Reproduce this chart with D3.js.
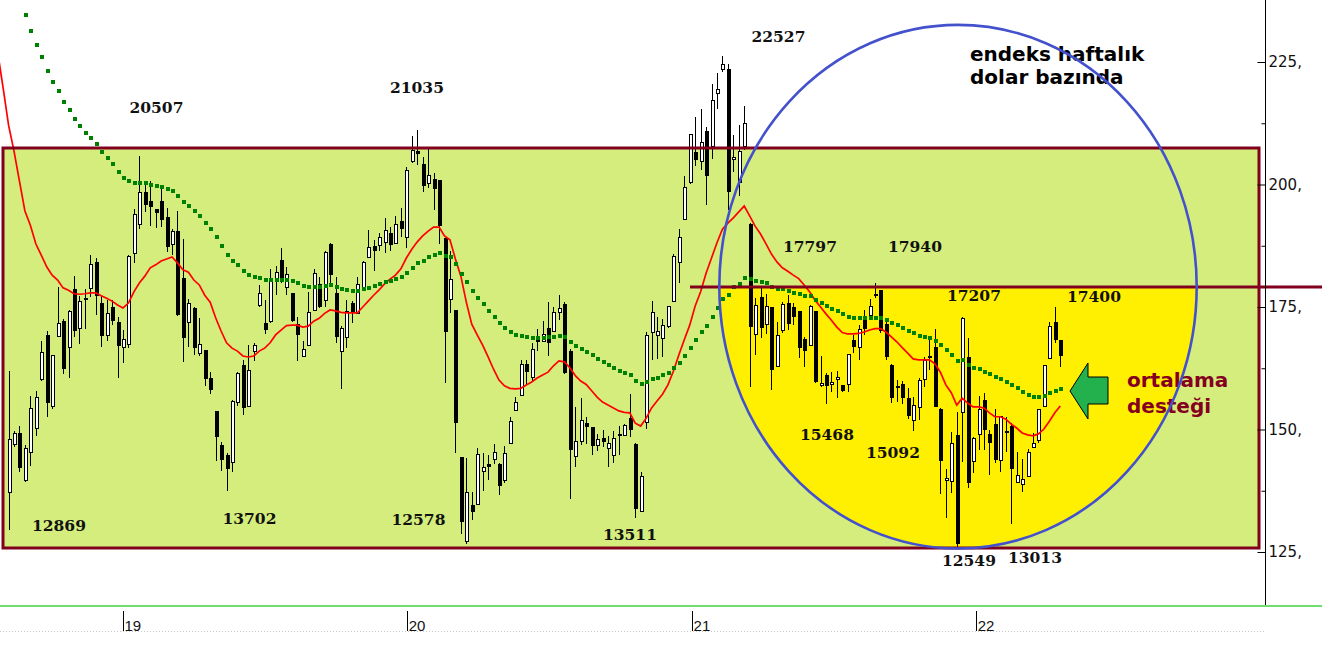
<!DOCTYPE html>
<html>
<head>
<meta charset="utf-8">
<script src="https://cdn.jsdelivr.net/npm/d3@7"></script>
<style>
  html, body { margin: 0; padding: 0; background: #fff; }
  svg { display: block; }
</style>
</head>
<body>
<svg id="chart" width="1322" height="650"></svg>
<script>
// ---------------- DATA (weekly candles, index in USD terms) ----------------
const firstWeek = "2018-08-07";
const opens = [137.1,147.0,149.1,139.6,145.3,150.2,160.3,169.2,154.7,169.0,
172.1,166.8,178.6,170.6,176.5,178.7,184.1,175.8,169.2,175.0,
171.9,166.7,167.3,186.0,191.9,198.4,196.6,194.8,196.6,193.3,
187.8,190.5,180.9,171.9,174.6,165.5,166.2,160.5,153.6,146.8,
144.7,143.3,155.5,163.1,154.7,165.9,175.3,171.7,172.0,180.9,
184.4,178.9,177.7,171.4,164.9,167.2,174.3,179.6,176.4,187.8,
177.8,166.0,168.8,175.8,173.7,179.0,185.1,187.4,187.6,188.1,
190.0,188.0,192.5,189.2,204.7,206.8,204.0,200.2,201.1,200.8,
188.9,176.6,174.2,144.2,127.1,134.4,134.7,141.4,142.8,143.8,
142.9,139.6,147.2,153.9,157.0,163.2,160.7,168.3,167.9,170.7,
170.1,173.9,175.6,166.0,144.5,147.6,151.3,150.4,146.7,148.2,
146.1,144.7,149.0,148.8,152.3,147.0,133.3,151.5,169.8,169.2,
168.6,171.0,176.2,184.1,192.9,200.4,206.6,204.7,210.9,207.7,
218.5,223.5,223.5,205.1,200.4,207.7,191.9,169.4,177.0,171.5,
174.8,162.9,170.2,175.8,174.8,174.0,168.3,167.2,174.0,158.9,
161.1,159.2,160.2,158.9,159.1,168.1,166.7,172.2,173.2,177.5,
178.3,171.5,163.0,158.7,159.1,156.4,151.9,154.5,160.2,165.0,
166.8,154.1,139.6,139.4,148.7,153.5,164.7,143.4,148.9,156.0,
149.0,151.1,143.6,149.6,150.6,139.2,138.7,140.5,146.4,147.7,
154.7,164.5,171.8,168.1];
const highs = [162.0,149.6,150.7,146.8,156.9,157.9,168.1,170.1,165.3,179.1,
172.6,174.3,181.3,177.2,178.6,185.6,185.0,177.2,176.5,176.5,
173.0,170.3,185.7,194.9,205.8,200.6,200.7,195.1,199.2,195.3,
191.0,194.6,188.9,176.6,174.9,172.8,166.2,161.7,153.8,147.4,
145.3,156.0,161.7,164.2,167.2,167.7,179.5,176.4,182.8,183.4,
187.0,183.2,177.9,173.0,168.1,178.1,182.8,181.1,186.5,188.1,
181.1,171.2,176.4,176.2,181.1,184.3,190.7,188.7,190.2,193.1,
191.3,193.6,195.3,203.6,209.9,211.1,205.7,207.3,202.3,201.0,
189.1,186.4,174.4,144.4,144.2,137.2,146.2,145.3,144.8,147.0,
143.1,146.6,152.6,156.7,164.2,164.2,167.6,170.5,172.2,176.0,
175.0,177.5,176.1,166.4,154.5,156.4,152.5,150.6,149.1,149.9,
148.7,149.7,150.7,151.2,157.3,147.2,141.4,170.0,176.2,173.0,
172.6,175.3,185.8,190.9,201.7,210.4,213.7,215.5,211.8,220.5,
222.7,226.2,224.5,210.1,212.1,216.0,192.1,176.8,178.8,177.6,
175.0,171.9,176.1,177.5,175.8,174.2,168.9,175.4,174.2,165.0,
161.6,161.7,161.9,159.1,165.5,169.3,171.3,174.4,176.6,180.0,
178.5,172.3,163.3,160.1,159.9,158.4,156.7,160.6,164.7,168.4,
170.6,154.3,141.9,149.4,153.5,172.9,168.6,148.4,156.8,157.4,
150.0,154.1,152.8,152.6,151.3,145.5,143.9,146.0,149.2,154.2,
163.2,172.0,174.9,168.3];
const lows = [129.5,146.5,141.4,139.3,142.6,148.7,159.8,152.6,154.1,168.8,
161.4,160.5,168.9,167.5,170.5,177.1,173.4,166.9,168.1,171.3,
160.6,163.6,166.7,184.0,190.9,194.4,191.6,191.2,191.4,186.2,
185.6,173.2,163.8,166.9,165.2,164.9,158.9,157.2,143.6,141.6,
137.5,141.4,154.7,153.0,154.5,164.0,174.9,169.4,171.8,177.5,
179.8,177.5,172.0,164.0,164.7,167.0,174.1,174.7,175.1,179.2,
167.7,158.3,166.7,171.8,173.5,178.8,184.9,182.4,186.5,186.1,
186.4,187.8,189.2,187.1,204.3,204.0,198.5,199.3,194.7,187.8,
159.4,173.7,145.3,128.6,126.6,131.5,134.5,137.5,139.7,142.9,
136.7,139.0,147.0,153.7,156.8,159.1,159.8,166.1,167.8,164.9,
169.9,172.4,161.3,135.8,142.4,146.8,147.0,144.8,145.7,146.5,
142.3,143.1,144.8,148.7,148.5,131.9,133.1,150.1,164.2,164.3,
164.7,170.7,176.0,180.0,192.7,200.1,203.8,203.0,195.8,205.3,
215.5,223.0,194.8,202.6,197.7,207.0,158.7,165.3,168.6,169.4,
158.1,162.7,169.6,170.3,171.3,164.5,162.8,167.0,159.4,158.7,
155.3,157.7,156.4,157.7,157.7,165.7,164.2,169.3,173.0,176.8,
169.6,164.2,155.5,155.7,155.3,152.1,149.6,151.9,158.7,162.1,
154.5,136.8,131.9,137.1,126.0,143.4,138.1,141.1,145.8,145.8,
140.7,143.1,141.3,145.5,130.7,139.0,137.3,140.3,146.2,147.2,
154.5,164.3,167.7,162.8];
const closes = [147.9,149.1,142.2,146.2,154.3,156.6,165.7,155.5,165.1,171.7,
162.4,174.1,170.2,176.2,176.7,183.7,177.4,169.1,173.6,172.2,
167.1,168.4,185.3,193.9,198.4,196.0,195.5,194.3,192.8,187.3,
190.4,173.4,168.7,175.8,166.7,167.4,160.4,158.1,148.5,143.9,
142.0,155.8,161.5,154.5,162.1,167.2,177.8,170.4,180.7,182.1,
180.9,181.7,172.2,169.4,166.4,173.9,181.9,175.1,186.2,181.6,
168.9,170.6,174.0,173.8,179.6,184.1,187.2,186.5,189.2,190.6,
187.7,191.9,191.0,202.8,207.0,206.3,199.8,201.9,199.1,191.7,
170.0,180.6,151.4,131.2,137.2,133.2,144.8,142.3,142.4,145.3,
138.5,145.2,151.7,155.5,163.2,161.8,166.4,167.9,169.3,167.7,
173.9,174.7,161.6,146.0,147.5,151.9,150.6,146.7,148.0,147.5,
147.2,148.1,148.8,150.9,150.0,133.9,140.5,169.2,173.9,170.1,
171.2,175.1,185.4,189.2,199.4,210.2,205.1,208.6,201.9,217.2,
219.4,224.5,198.5,205.5,206.8,212.5,171.0,175.3,170.9,175.2,
162.3,169.2,175.6,171.7,173.0,166.8,166.2,175.1,159.8,159.4,
158.9,159.6,160.6,157.9,165.3,167.0,170.4,170.6,175.1,177.3,
170.3,164.9,156.6,158.6,156.5,152.8,154.8,160.1,164.0,164.7,
154.7,143.6,140.0,147.2,126.8,172.7,139.2,148.2,154.0,150.0,
147.3,143.9,152.6,149.4,142.1,140.7,139.7,145.3,147.2,154.0,
163.0,171.1,168.3,165.1];
// short moving average (red), starts two weeks before the first candle
const fastMAStart = -2;
const fastMA = [227.0,219.7,212.1,206.8,200.7,194.6,191.7,187.9,185.6,183.2,181.5,180.5,
178.9,178.4,177.7,177.6,177.7,177.9,177.9,177.3,176.8,176.2,
175.4,174.8,175.8,178.1,179.9,181.3,183.0,183.6,184.4,184.8,
185.2,184.0,182.6,182.1,180.5,179.5,177.4,176.0,172.8,170.1,
167.7,166.6,166.0,165.0,164.8,165.0,166.0,166.6,167.7,169.3,
170.3,171.2,171.3,171.3,170.9,171.1,172.1,172.7,173.7,174.4,
174.2,173.9,173.8,173.8,173.8,175.0,176.2,177.4,178.5,179.7,
180.7,181.5,182.8,185.0,186.8,188.3,189.5,190.5,191.3,191.3,
189.5,188.7,184.8,181.3,176.0,171.5,169.3,167.2,164.8,162.3,
160.1,158.9,158.4,158.3,158.4,159.1,159.7,160.5,161.1,161.7,
163.0,164.0,163.8,162.6,161.0,159.9,159.2,157.9,156.6,155.6,
155.0,154.4,153.8,153.5,153.4,151.3,150.7,152.3,154.4,155.8,
157.2,159.1,161.9,165.2,168.3,171.3,175.2,178.1,181.9,185.0,
188.1,190.9,192.1,193.2,194.4,195.6,193.6,191.5,189.9,187.9,
185.8,184.2,183.0,182.3,181.5,180.8,179.5,178.1,176.4,175.0,
173.6,172.3,170.9,169.8,169.5,169.5,169.6,169.9,170.3,170.6,
170.6,169.9,168.9,167.9,166.7,165.6,164.4,164.2,164.2,164.2,
163.4,161.7,159.1,157.5,155.0,156.4,155.4,154.6,154.6,154.4,
153.4,152.6,152.6,152.1,151.1,150.3,149.3,148.9,148.7,149.1,
150.1,151.7,153.4,154.8];
// long moving average (green dots), starts at the 4th candle
const slowMAStart = 3;
const slowMA = [234.6,231.3,228.5,226.0,223.2,220.9,219.1,
216.8,215.2,213.4,211.9,210.5,209.5,208.3,206.6,205.4,204.2,
202.6,201.3,200.7,200.3,200.3,200.3,199.9,199.7,199.5,199.1,
198.7,197.7,196.4,195.6,194.6,193.6,192.1,190.9,189.3,187.4,
185.6,184.4,183.6,182.3,181.5,181.1,180.9,180.5,180.5,180.5,
180.5,180.5,180.3,179.9,179.3,179.1,179.1,179.1,179.3,179.5,
179.1,178.7,178.5,178.3,178.3,178.7,178.9,179.3,179.7,180.1,
180.3,180.7,181.1,181.9,183.0,184.0,184.4,185.2,185.6,186.0,
185.4,185.2,183.8,181.7,180.1,178.3,176.8,175.6,174.2,173.0,
171.7,170.7,169.9,169.3,169.1,168.9,168.7,168.7,168.7,168.9,
168.9,169.1,168.9,167.9,167.0,166.4,165.8,165.2,164.4,163.8,
163.2,162.6,161.9,161.5,161.1,159.9,159.3,159.7,160.3,160.5,
161.1,161.5,162.6,163.6,165.0,166.6,168.3,169.9,171.1,173.0,
174.8,176.6,177.4,179.1,179.7,180.9,180.7,180.3,180.1,179.9,
179.1,178.7,178.7,178.3,177.9,177.7,177.2,177.2,176.4,175.8,
175.2,174.6,174.2,173.6,173.0,172.8,172.8,172.8,172.8,172.8,
172.8,172.3,171.7,171.3,170.7,170.1,169.7,169.1,168.9,168.7,
168.1,167.2,166.2,165.2,164.0,164.2,163.2,162.6,162.3,161.7,
161.3,160.7,160.3,159.7,159.1,158.5,157.7,157.0,156.6,156.6,
156.8,157.5,157.9,158.3];
const yTickValues = [125, 150, 175, 200, 225];
const yMinorTickValues = [137.5, 162.5, 187.5, 212.5];
const pointLabels = ["12869","20507","13702","21035","12578","13511","22527",
                     "17797","17940","17207","17400","15468","15092","12549","13013"];
const titleLines = ["endeks haftalık", "dolar bazında"];
const noteLines = ["ortalama", "desteği"];

// ---------------- LAYOUT ----------------
const W = 1322, H = 650;
const axisX = 1265, plotBottom = 605;
const svg = d3.select("#chart");
const DAY = 864e5;
const t0 = Date.parse(firstWeek + "T00:00:00Z");
const weekDate = i => new Date(t0 + i * 7 * DAY);

const x = d3.scaleUtc()
  .domain([new Date(Date.UTC(2019,0,1)), new Date(Date.UTC(2022,0,1))])
  .range([123.0, 976.2]);
const y = d3.scaleLinear().domain([125, 225]).range([552, 62]);

const MAROON = "#80001e";
const candles = opens.map((o,i) => ({date: weekDate(i), o, h: highs[i], l: lows[i], c: closes[i]}));

const defs = svg.append("defs");
defs.append("clipPath").attr("id","plotClip").append("rect")
  .attr("x",0).attr("y",0).attr("width",axisX).attr("height",plotBottom);
defs.append("clipPath").attr("id","lowerClip").append("rect")
  .attr("x",3).attr("y",287).attr("width",1256).attr("height",261);

const ell = {cx: 958, cy: 286.7, rx: 238.7, ry: 261.8};

svg.append("rect").attr("x",3).attr("y",148).attr("width",1256).attr("height",400)
  .attr("fill","#d4ed7d");
svg.append("ellipse").attr("cx",ell.cx).attr("cy",ell.cy).attr("rx",ell.rx).attr("ry",ell.ry)
  .attr("fill","#ffef00").attr("clip-path","url(#lowerClip)");

const plot = svg.append("g").attr("clip-path","url(#plotClip)");

const cg = plot.append("g").attr("shape-rendering","crispEdges");
cg.selectAll("line.wick").data(candles).join("line").attr("class","wick")
  .attr("x1", d => Math.round(x(d.date)) + 0.5)
  .attr("x2", d => Math.round(x(d.date)) + 0.5)
  .attr("y1", d => y(d.h)).attr("y2", d => y(d.l))
  .attr("stroke","#000").attr("stroke-width",1);
cg.selectAll("rect.body").data(candles).join("rect").attr("class","body")
  .attr("x", d => Math.round(x(d.date)) - 1)
  .attr("width", 3)
  .attr("y", d => y(Math.max(d.o,d.c)))
  .attr("height", d => Math.max(1, Math.abs(y(d.o) - y(d.c))))
  .attr("fill", d => d.c >= d.o ? "#fff" : "#000")
  .attr("stroke","#000").attr("stroke-width",1);

const fastPts = fastMA.map((v,k) => ({date: weekDate(k + fastMAStart), v}));
plot.append("path").datum(fastPts)
  .attr("fill","none").attr("stroke","#ff0000").attr("stroke-width",1.7)
  .attr("d", d3.line().x(d => x(d.date)).y(d => y(d.v)));

const slowPts = slowMA.map((v,k) => ({date: weekDate(k + slowMAStart), v}));
plot.append("g").attr("shape-rendering","crispEdges")
  .selectAll("rect").data(slowPts).join("rect")
  .attr("x", d => Math.round(x(d.date)) - 1.5)
  .attr("y", d => Math.round(y(d.v)) - 2)
  .attr("width",4).attr("height",4).attr("fill","#008000");

svg.append("rect").attr("x",3).attr("y",148).attr("width",1256).attr("height",400)
  .attr("fill","none").attr("stroke",MAROON).attr("stroke-width",3);
svg.append("line").attr("x1",690).attr("x2",W).attr("y1",287).attr("y2",287)
  .attr("stroke",MAROON).attr("stroke-width",3);

const labelPos = [[32,530.5],[129.5,112.5],[222.5,524],[390,93],[391.5,525],[603,540],[751.5,42],
                  [783,252],[888,252],[947,301],[1067,302],[800,440],[866,457.5],[942,566],[1008,563]];
svg.append("g").selectAll("text").data(pointLabels).join("text")
  .attr("x", (d,i) => labelPos[i][0]).attr("y", (d,i) => labelPos[i][1])
  .attr("font-family","'DejaVu Serif', serif").attr("font-weight","bold")
  .attr("font-size",15.5).attr("fill","#111").text(d => d);

svg.append("g").selectAll("text").data(titleLines).join("text")
  .attr("x",970).attr("y",(d,i) => 60.5 + i*23.5)
  .attr("font-family","'DejaVu Sans', sans-serif").attr("font-weight","bold")
  .attr("font-size",20).attr("fill","#000").text(d => d);

svg.append("g").selectAll("text").data(noteLines).join("text")
  .attr("x",1127).attr("y",(d,i) => 387 + i*25.5)
  .attr("font-family","'DejaVu Sans', sans-serif").attr("font-weight","bold")
  .attr("font-size",20).attr("fill","#850020").text(d => d);
svg.append("polygon")
  .attr("points","1070,391 1088,363 1088,377 1108,377 1108,404 1088,404 1088,419")
  .attr("fill","#22b14c").attr("stroke","#000").attr("stroke-width",1);

svg.append("ellipse").attr("cx",ell.cx).attr("cy",ell.cy).attr("rx",ell.rx).attr("ry",ell.ry)
  .attr("fill","none").attr("stroke","#4451cc").attr("stroke-width",2.6);

// ---------------- AXES ----------------
svg.append("line").attr("x1",axisX+0.5).attr("x2",axisX+0.5).attr("y1",0).attr("y2",plotBottom)
  .attr("stroke","#000").attr("stroke-width",1);
const yAxis = svg.append("g").attr("transform",`translate(${axisX+0.5},0)`)
  .call(d3.axisRight(y).tickValues(yTickValues).tickSizeInner(-8).tickSizeOuter(0)
        .tickPadding(3).tickFormat(d => d + ","));
yAxis.select(".domain").remove();
yAxis.selectAll("text").attr("font-family","'DejaVu Sans', sans-serif").attr("font-size",15).attr("fill","#111");
const yMinor = svg.append("g").attr("transform",`translate(${axisX+0.5},0)`)
  .call(d3.axisRight(y).tickValues(yMinorTickValues).tickSizeInner(-4).tickSizeOuter(0).tickFormat(""));
yMinor.select(".domain").remove();

svg.append("line").attr("x1",0).attr("x2",W).attr("y1",606).attr("y2",606)
  .attr("stroke","#6fdf6f").attr("stroke-width",2);
svg.append("line").attr("x1",0).attr("x2",axisX).attr("y1",631.5).attr("y2",631.5)
  .attr("stroke","#c8c8c8").attr("stroke-width",1).attr("stroke-dasharray","1,2");

const xAxis = svg.append("g").attr("transform","translate(0,611)")
  .call(d3.axisBottom(x).ticks(d3.utcYear.every(1)).tickFormat(d3.utcFormat("%y"))
        .tickSizeInner(20).tickSizeOuter(0));
xAxis.select(".domain").remove();
xAxis.selectAll(".tick line").attr("shape-rendering","crispEdges");
xAxis.selectAll("text").attr("text-anchor","start").attr("x",1).attr("y",20).attr("dy",0)
  .attr("font-family","'Liberation Sans', sans-serif").attr("font-size",15).attr("fill","#111");
</script>
</body>
</html>
